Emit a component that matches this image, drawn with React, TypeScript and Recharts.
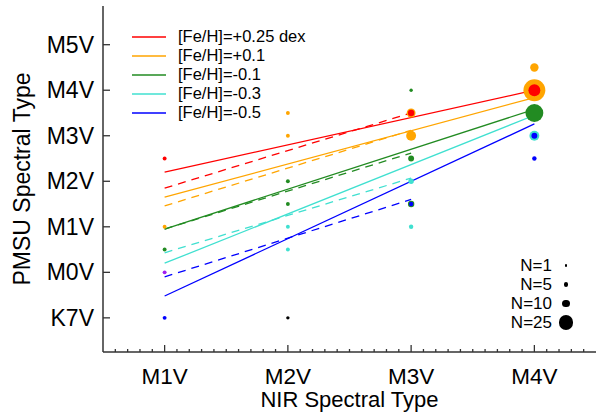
import { ComposedChart, Line, Scatter, XAxis, YAxis } from 'recharts'

// axis categories
const xTicks = [1, 2, 3, 4]
const xLabels = ['M1V', 'M2V', 'M3V', 'M4V']
const yTicks = [-1, 0, 1, 2, 3, 4, 5]
const yLabels = ['K7V', 'M0V', 'M1V', 'M2V', 'M3V', 'M4V', 'M5V']

// metallicity relations
const fehLabels = ['[Fe/H]=+0.25 dex', '[Fe/H]=+0.1', '[Fe/H]=-0.1', '[Fe/H]=-0.3', '[Fe/H]=-0.5']
const fehColors = ['#ff0000', '#ffa500', '#228b22', '#40e0d0', '#0000ff']
const solidFrom = [2.2, 1.65, 0.95, 0.2, -0.52]   // at M1V
const solidTo = [4.0, 3.84, 3.58, 3.45, 3.26]     // at M4V
const dashFrom = [1.85, 1.46, 0.95, 0.43, -0.1]   // at M1V
const dashTo = [3.5, 3.12, 2.62, 2.07, 1.6]       // at M3V

// binned stars: x = NIR type, y = PMSU type, n = number of stars
const orangePts = [
    { x: 1, y: 1, n: 3 }, { x: 2, y: 3.5, n: 3 }, { x: 2, y: 3, n: 3 },
    { x: 3, y: 3.5, n: 13 }, { x: 3, y: 3, n: 15 }, { x: 4, y: 4.5, n: 12 }, { x: 4, y: 4, n: 39 }
]
const greenPts = [
    { x: 1, y: 0.5, n: 3 }, { x: 2, y: 2, n: 3 }, { x: 2, y: 1.5, n: 3 },
    { x: 3, y: 4, n: 2 }, { x: 3, y: 2.5, n: 7 }, { x: 3, y: 1.5, n: 8 }, { x: 4, y: 3.5, n: 31 }
]
const cyanPts = [
    { x: 2, y: 1, n: 3 }, { x: 2, y: 0.5, n: 3 }, { x: 3, y: 2, n: 6 }, { x: 3, y: 1, n: 4 }, { x: 4, y: 3, n: 15 }
]
const redPts = [{ x: 1, y: 2.5, n: 3 }, { x: 3, y: 3.5, n: 8 }, { x: 4, y: 4, n: 19 }]
const bluePts = [{ x: 1, y: -1, n: 3 }, { x: 3, y: 1.5, n: 4 }, { x: 4, y: 3, n: 7 }, { x: 4, y: 2.5, n: 4 }]
const purplePts = [{ x: 1, y: 0, n: 3 }]
const blackPts = [{ x: 2, y: -1, n: 2 }]

const sizeKey = [1, 5, 10, 25]

const xDomain = [0.5, 4.5]
const yDomain = [-1.75, 5.85]
const xMinor = Array.from({ length: 39 }, (_, i) => Math.round((0.6 + i * 0.1) * 10) / 10)

const frame = '#333'
const font = '"Liberation Sans", Arial, sans-serif'
const radius = (n) => 1.2 + 0.25 * n

const BottomTick = ({ x, y, payload }) => {
    const major = Number.isInteger(payload.value)
    return (
        <g>
            <line x1={x} x2={x} y1={y} y2={y - (major ? 7 : 3)} stroke={frame} strokeWidth={1.3} />
            {major && (
                <text x={x} y={y + 32} textAnchor="middle" fontSize={22.5} fill="#000">
                    {xLabels[xTicks.indexOf(payload.value)]}
                </text>
            )}
        </g>
    )
}

const TopTick = ({ x, y, payload }) => {
    const major = Number.isInteger(payload.value)
    return <line x1={x} x2={x} y1={y} y2={y + (major ? 7 : 3)} stroke={frame} strokeWidth={1.3} />
}

const LeftTick = ({ x, y, payload }) => (
    <g>
        <line x1={x} x2={x + 7} y1={y} y2={y} stroke={frame} strokeWidth={1.3} />
        <text x={x - 9} y={y + 8} textAnchor="end" fontSize={23} fill="#000">
            {yLabels[yTicks.indexOf(payload.value)]}
        </text>
    </g>
)

const RightTick = ({ x, y }) => (
    <line x1={x} x2={x - 7} y1={y} y2={y} stroke={frame} strokeWidth={1.3} />
)

const dot = (color) => (p) => <circle cx={p.cx} cy={p.cy} r={radius(p.payload.n)} fill={color} />

const scatterSets = [
    { pts: orangePts, color: '#ffa500' },
    { pts: greenPts, color: '#228b22' },
    { pts: cyanPts, color: '#40e0d0' },
    { pts: redPts, color: '#ff0000' },
    { pts: bluePts, color: '#0000ff' },
    { pts: purplePts, color: '#a020f0' },
    { pts: blackPts, color: '#000000' }
]

const App = () => {
    return (
        <div style={{ position: 'absolute', left: 0, top: 0, width: 606, height: 413, fontFamily: font, background: '#fff' }}>
            <ComposedChart width={606} height={413} margin={{ top: 6, right: 10, bottom: 0, left: 0 }}>
                <XAxis
                    xAxisId="b" type="number" dataKey="x" domain={xDomain} allowDataOverflow
                    ticks={xMinor} interval={0} height={61} tickSize={0} tickMargin={0} tickLine={false}
                    axisLine={{ stroke: frame, strokeWidth: 1.5 }} tick={<BottomTick />}
                    label={{ value: 'NIR Spectral Type', position: 'insideBottom', offset: 6, fontSize: 22, fill: '#000' }}
                />
                <XAxis
                    xAxisId="t" orientation="top" mirror type="number" domain={xDomain} allowDataOverflow
                    ticks={xMinor} interval={0} height={0} tickSize={0} tickMargin={0} tickLine={false}
                    axisLine={{ stroke: frame, strokeWidth: 1.5 }} tick={<TopTick />}
                />
                <YAxis
                    yAxisId="l" type="number" dataKey="y" domain={yDomain} allowDataOverflow
                    ticks={yTicks} interval={0} width={103} tickSize={0} tickMargin={0} tickLine={false}
                    axisLine={{ stroke: frame, strokeWidth: 1.5 }} tick={<LeftTick />}
                    label={{ value: 'PMSU Spectral Type', angle: -90, position: 'insideLeft', offset: 22, fontSize: 23, fill: '#000', style: { textAnchor: 'middle' } }}
                />
                <YAxis
                    yAxisId="r" orientation="right" mirror type="number" domain={yDomain} allowDataOverflow
                    ticks={yTicks} interval={0} width={0} tickSize={0} tickMargin={0} tickLine={false}
                    axisLine={{ stroke: frame, strokeWidth: 1.5 }} tick={<RightTick />}
                />
                {scatterSets.map((s, i) => (
                    <Scatter
                        key={`s-${i}`} xAxisId="b" yAxisId="l" data={s.pts}
                        shape={dot(s.color)} isAnimationActive={false}
                    />
                ))}
                {fehColors.map((c, i) => (
                    <Line
                        key={`d-${i}`} xAxisId="b" yAxisId="l" dataKey="y"
                        data={[{ x: 1, y: dashFrom[i] }, { x: 3, y: dashTo[i] }]}
                        stroke={c} strokeWidth={1.3} strokeDasharray="8 6" dot={false} activeDot={false}
                        isAnimationActive={false}
                    />
                ))}
                {fehColors.map((c, i) => (
                    <Line
                        key={`l-${i}`} xAxisId="b" yAxisId="l" dataKey="y"
                        data={[{ x: 1, y: solidFrom[i] }, { x: 4, y: solidTo[i] }]}
                        stroke={c} strokeWidth={1.3} dot={false} activeDot={false}
                        isAnimationActive={false}
                    />
                ))}
            </ComposedChart>

            <div style={{ position: 'absolute', left: 132, top: 27, fontSize: 16.5 }}>
                {fehLabels.map((label, i) => (
                    <div key={`leg-${i}`} style={{ display: 'flex', alignItems: 'center', height: 19 }}>
                        <svg width={34} height={4} style={{ marginRight: 12, display: 'block' }}>
                            <line x1={0} x2={34} y1={2} y2={2} stroke={fehColors[i]} strokeWidth={1.5} />
                        </svg>
                        <span>{label}</span>
                    </div>
                ))}
            </div>

            <div style={{ position: 'absolute', right: 32, top: 256, fontSize: 17 }}>
                {sizeKey.map((n, i) => (
                    <div key={`n-${i}`} style={{ display: 'flex', alignItems: 'center', justifyContent: 'flex-end', height: 19 }}>
                        <span>N={n}</span>
                        <div style={{ width: 16, display: 'flex', justifyContent: 'center', marginLeft: 6 }}>
                            <div style={{ width: radius(n) * 2, height: radius(n) * 2, borderRadius: '50%', background: '#000' }} />
                        </div>
                    </div>
                ))}
            </div>
        </div>
    )
}

export default App
